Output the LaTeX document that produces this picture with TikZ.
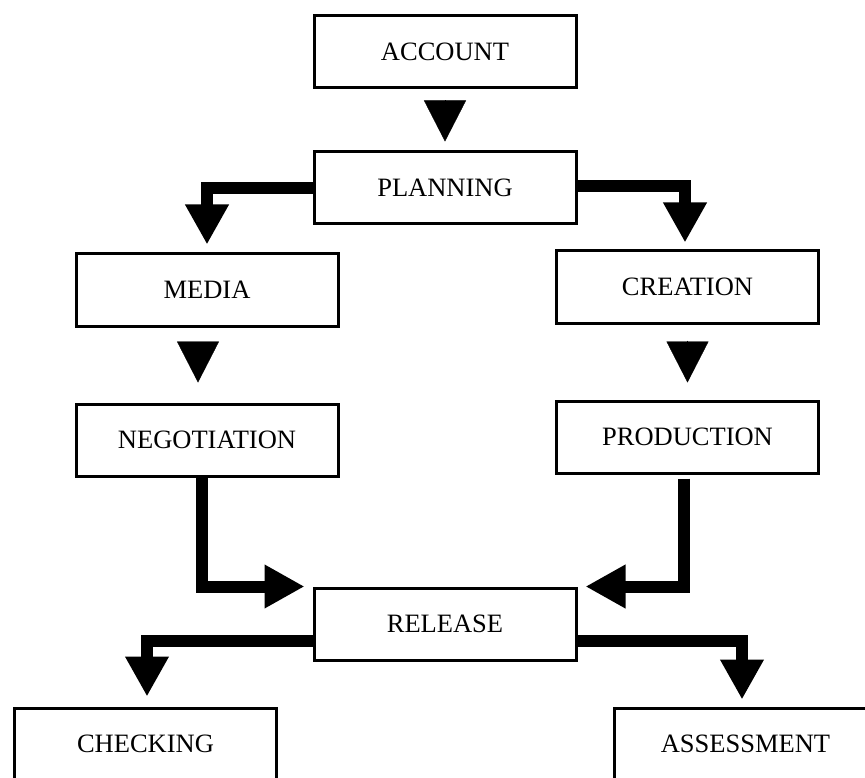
\documentclass[tikz,border=0pt]{standalone}
\usepackage{fontspec}
\setmainfont{Liberation Serif}
\usetikzlibrary{arrows.meta,calc}
\begin{document}
\begin{tikzpicture}[x=1pt,y=-1pt,
  box/.style={draw=black, line width=3pt, fill=white, rectangle,
    minimum width=262pt, minimum height=72pt, inner sep=0pt,
    font=\fontsize{26.5}{30}\selectfont},
  bar/.style={draw=black, line width=12pt, line join=miter,
    -{Triangle[width=41pt,length=40pt]}},
  gaptri/.style={draw=black, line width=0.3pt,
    -{Triangle[width=42pt,length=41pt]}}
]
\useasboundingbox (0,0) rectangle (865,778);
\fill[white] (0,0) rectangle (865,778);
\clip (0,0) rectangle (865,778);

\node[box] (account) at (445,52) {ACCOUNT};
\node[box] (planning) at (445,188) {PLANNING};
\node[box] (media) at (207,290) {MEDIA};
\node[box] (negotiation) at (207,440) {NEGOTIATION};
\node[box] (creation) at (687.5,287) {CREATION};
\node[box] (production) at (687.5,437) {PRODUCTION};
\node[box] (release) at (445,624) {RELEASE};
\node[box] (checking) at (145.5,744) {CHECKING};
\node[box] (assessment) at (745.5,744) {ASSESSMENT};

% plain triangles between stacked boxes
\draw[gaptri] ([yshift=-11pt]account.south) -- ([yshift=9pt]planning.north);
\draw[gaptri] ([yshift=-15pt,xshift=-9pt]media.south) -- ([yshift=20pt,xshift=-9pt]negotiation.north);
\draw[gaptri] ([yshift=-16pt]creation.south) -- ([yshift=17pt]production.north);

% elbow arrows
\draw[bar] (planning.west) -| ([yshift=8pt]media.north);
\draw[bar] ([yshift=2pt]planning.east) -| ([xshift=-2.5pt,yshift=7pt]creation.north);
\draw[bar] ([xshift=-5pt]negotiation.south) |- ([xshift=-8pt]release.north west);
\draw[bar] ([xshift=-3.5pt,yshift=-4pt]production.south) |- ([xshift=8pt]release.north east);
\draw[bar] ([yshift=-17pt]release.west) -| ([xshift=1.5pt,yshift=10pt]checking.north);
\draw[bar] ([yshift=-17pt]release.east) -| ([xshift=-3.5pt,yshift=7pt]assessment.north);
\end{tikzpicture}
\end{document}
